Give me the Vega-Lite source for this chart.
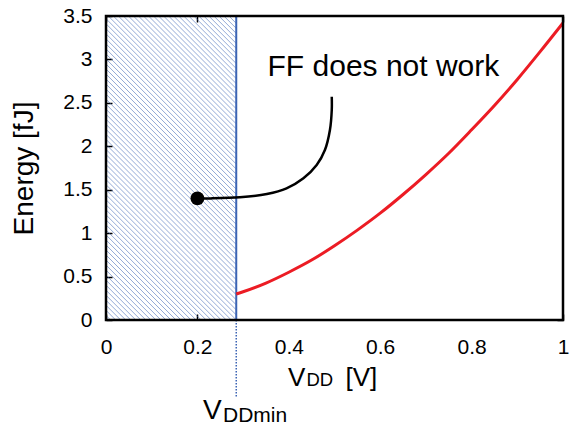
{
  "$schema": "https://vega.github.io/schema/vega-lite/v6.json",
  "width": 457,
  "height": 304,
  "autosize": {"type": "none"},
  "padding": {"left": 106, "top": 16, "right": 7, "bottom": 105},
  "background": "white",
  "config": {
    "view": {"stroke": null},
    "font": "Liberation Sans",
    "axis": {"grid": false, "domain": false, "tickColor": "black", "tickWidth": 1.5, "tickSize": -6, "labelColor": "black", "labelFont": "Liberation Sans", "labelFontSize": 21, "labelFlush": false, "zindex": 2}
  },
  "datasets": {
    "hatch": [
      {"a": 0.28}, {"a": 0.269}, {"a": 0.258}, {"a": 0.247}, {"a": 0.236}, {"a": 0.225}, {"a": 0.214}, {"a": 0.203}, {"a": 0.192}, {"a": 0.181},
      {"a": 0.17}, {"a": 0.159}, {"a": 0.148}, {"a": 0.137}, {"a": 0.126}, {"a": 0.115}, {"a": 0.104}, {"a": 0.093}, {"a": 0.082}, {"a": 0.071},
      {"a": 0.06}, {"a": 0.049}, {"a": 0.038}, {"a": 0.027}, {"a": 0.016}, {"a": 0.005}, {"a": -0.006}, {"a": -0.017}, {"a": -0.028}, {"a": -0.039},
      {"a": -0.05}, {"a": -0.061}, {"a": -0.072}, {"a": -0.083}, {"a": -0.094}, {"a": -0.105}, {"a": -0.116}, {"a": -0.127}, {"a": -0.138}, {"a": -0.149},
      {"a": -0.16}, {"a": -0.171}, {"a": -0.182}, {"a": -0.193}, {"a": -0.204}, {"a": -0.215}, {"a": -0.226}, {"a": -0.237}, {"a": -0.248}, {"a": -0.259},
      {"a": -0.27}, {"a": -0.281}, {"a": -0.292}, {"a": -0.303}, {"a": -0.314}, {"a": -0.325}, {"a": -0.336}, {"a": -0.347}, {"a": -0.358}, {"a": -0.369},
      {"a": -0.38}, {"a": -0.391}, {"a": -0.402}, {"a": -0.413}, {"a": -0.424}, {"a": -0.435}, {"a": -0.446}, {"a": -0.457}, {"a": -0.468}, {"a": -0.479},
      {"a": -0.49}, {"a": -0.501}, {"a": -0.512}, {"a": -0.523}, {"a": -0.534}, {"a": -0.545}, {"a": -0.556}, {"a": -0.567}, {"a": -0.578}, {"a": -0.589},
      {"a": -0.6}, {"a": -0.611}, {"a": -0.622}, {"a": -0.633}, {"a": -0.644}, {"a": -0.655}, {"a": -0.666}
    ],
    "energy": [
      {"vdd": 0.285, "energy": 0.3},
      {"vdd": 0.3, "energy": 0.325},
      {"vdd": 0.35, "energy": 0.425},
      {"vdd": 0.4, "energy": 0.55},
      {"vdd": 0.45, "energy": 0.69},
      {"vdd": 0.5, "energy": 0.855},
      {"vdd": 0.55, "energy": 1.035},
      {"vdd": 0.6, "energy": 1.23},
      {"vdd": 0.65, "energy": 1.445},
      {"vdd": 0.7, "energy": 1.675},
      {"vdd": 0.75, "energy": 1.92},
      {"vdd": 0.8, "energy": 2.19},
      {"vdd": 0.85, "energy": 2.47},
      {"vdd": 0.9, "energy": 2.77},
      {"vdd": 0.95, "energy": 3.09},
      {"vdd": 1.0, "energy": 3.42}
    ],
    "arrow": [
      {"i": 0, "x": 0.2, "y": 1.4},
      {"i": 1, "x": 0.228, "y": 1.4},
      {"i": 2, "x": 0.293, "y": 1.412},
      {"i": 3, "x": 0.352, "y": 1.451},
      {"i": 4, "x": 0.395, "y": 1.516},
      {"i": 5, "x": 0.432, "y": 1.632},
      {"i": 6, "x": 0.461, "y": 1.785},
      {"i": 7, "x": 0.479, "y": 1.957},
      {"i": 8, "x": 0.49, "y": 2.188},
      {"i": 9, "x": 0.494, "y": 2.418},
      {"i": 10, "x": 0.494, "y": 2.571}
    ],
    "dot": [{"x": 0.2, "y": 1.4}],
    "one": [{}]
  },
  "resolve": {"axis": {"x": "independent", "y": "independent"}},
  "layer": [
    {
      "data": {"name": "hatch"},
      "mark": {"type": "rule", "clip": true, "x2Offset": 304, "stroke": "#3c64b4", "strokeWidth": 1, "opacity": 0.55},
      "encoding": {
        "x": {"field": "a", "type": "quantitative", "scale": {"domain": [0, 1], "nice": false, "zero": false},
          "axis": {"orient": "bottom", "values": [0, 0.2, 0.4, 0.6, 0.8, 1], "format": "~g", "title": null, "labelPadding": 22}},
        "x2": {"field": "a"},
        "y": {"datum": 3.5, "type": "quantitative", "scale": {"domain": [0, 3.5], "nice": false, "zero": false},
          "axis": {"orient": "left", "values": [0, 0.5, 1, 1.5, 2, 2.5, 3, 3.5], "format": "~g", "labelPadding": 20,
            "title": "Energy [fJ]", "titleFont": "Liberation Sans", "titleFontSize": 28, "titleFontWeight": "normal", "titleColor": "black", "titlePadding": 24}},
        "y2": {"datum": 0}
      }
    },
    {
      "data": {"name": "one"},
      "mark": {"type": "rect", "fill": "white"},
      "encoding": {
        "x": {"datum": 0.285, "type": "quantitative", "scale": {"domain": [0, 1], "nice": false, "zero": false}, "axis": null},
        "x2": {"datum": 1},
        "y": {"datum": 0, "type": "quantitative", "scale": {"domain": [0, 3.5], "nice": false, "zero": false}, "axis": null},
        "y2": {"datum": 3.5}
      }
    },
    {
      "data": {"name": "one"},
      "mark": {"type": "rect", "fill": null, "fillOpacity": 0, "stroke": "#3c64b4", "strokeWidth": 2},
      "encoding": {
        "x": {"datum": 0, "type": "quantitative", "scale": {"domain": [0, 1], "nice": false, "zero": false}, "axis": null},
        "x2": {"datum": 0.285},
        "y": {"datum": 0, "type": "quantitative", "scale": {"domain": [0, 3.5], "nice": false, "zero": false}, "axis": null},
        "y2": {"datum": 3.5}
      }
    },
    {
      "data": {"name": "one"},
      "mark": {"type": "rule", "stroke": "#3c64b4", "strokeWidth": 1.5, "strokeDash": [1.5, 1.5]},
      "encoding": {
        "x": {"datum": 0.285, "type": "quantitative", "scale": {"domain": [0, 1], "nice": false, "zero": false}, "axis": null},
        "y": {"datum": 0, "type": "quantitative", "scale": {"domain": [0, 3.5], "nice": false, "zero": false}, "axis": null},
        "y2": {"datum": -0.88}
      }
    },
    {
      "data": {"name": "energy"},
      "mark": {"type": "line", "stroke": "#ec1c24", "strokeWidth": 3, "interpolate": "monotone"},
      "encoding": {
        "x": {"field": "vdd", "type": "quantitative", "scale": {"domain": [0, 1], "nice": false, "zero": false}, "axis": null},
        "y": {"field": "energy", "type": "quantitative", "scale": {"domain": [0, 3.5], "nice": false, "zero": false}, "axis": null}
      }
    },
    {
      "data": {"name": "arrow"},
      "mark": {"type": "line", "stroke": "black", "strokeWidth": 2.5, "interpolate": "catmull-rom"},
      "encoding": {
        "x": {"field": "x", "type": "quantitative", "scale": {"domain": [0, 1], "nice": false, "zero": false}, "axis": null},
        "y": {"field": "y", "type": "quantitative", "scale": {"domain": [0, 3.5], "nice": false, "zero": false}, "axis": null},
        "order": {"field": "i", "type": "quantitative"}
      }
    },
    {
      "data": {"name": "dot"},
      "mark": {"type": "point", "filled": true, "fill": "black", "opacity": 1, "size": 190, "shape": "circle"},
      "encoding": {
        "x": {"field": "x", "type": "quantitative", "scale": {"domain": [0, 1], "nice": false, "zero": false}, "axis": null},
        "y": {"field": "y", "type": "quantitative", "scale": {"domain": [0, 3.5], "nice": false, "zero": false}, "axis": null}
      }
    },
    {
      "data": {"name": "one"},
      "mark": {"type": "text", "text": "FF does not work", "font": "Liberation Sans", "fontSize": 30, "align": "center", "baseline": "alphabetic", "color": "black"},
      "encoding": {
        "x": {"datum": 0.607, "type": "quantitative", "scale": {"domain": [0, 1], "nice": false, "zero": false}, "axis": null},
        "y": {"datum": 2.81, "type": "quantitative", "scale": {"domain": [0, 3.5], "nice": false, "zero": false}, "axis": null}
      }
    },
    {
      "data": {"name": "one"},
      "mark": {"type": "text", "text": "V", "font": "Liberation Sans", "fontSize": 26, "align": "left", "baseline": "alphabetic", "color": "black"},
      "encoding": {
        "x": {"datum": 0.398, "type": "quantitative", "scale": {"domain": [0, 1], "nice": false, "zero": false}, "axis": null},
        "y": {"datum": -0.76, "type": "quantitative", "scale": {"domain": [0, 3.5], "nice": false, "zero": false}, "axis": null}
      }
    },
    {
      "data": {"name": "one"},
      "mark": {"type": "text", "text": "DD", "font": "Liberation Sans", "fontSize": 18.5, "align": "left", "baseline": "alphabetic", "color": "black"},
      "encoding": {
        "x": {"datum": 0.4385, "type": "quantitative", "scale": {"domain": [0, 1], "nice": false, "zero": false}, "axis": null},
        "y": {"datum": -0.765, "type": "quantitative", "scale": {"domain": [0, 3.5], "nice": false, "zero": false}, "axis": null}
      }
    },
    {
      "data": {"name": "one"},
      "mark": {"type": "text", "text": "[V]", "font": "Liberation Sans", "fontSize": 26, "align": "left", "baseline": "alphabetic", "color": "black"},
      "encoding": {
        "x": {"datum": 0.524, "type": "quantitative", "scale": {"domain": [0, 1], "nice": false, "zero": false}, "axis": null},
        "y": {"datum": -0.76, "type": "quantitative", "scale": {"domain": [0, 3.5], "nice": false, "zero": false}, "axis": null}
      }
    },
    {
      "data": {"name": "one"},
      "mark": {"type": "text", "text": "V", "font": "Liberation Sans", "fontSize": 28, "align": "left", "baseline": "alphabetic", "color": "black"},
      "encoding": {
        "x": {"datum": 0.2123, "type": "quantitative", "scale": {"domain": [0, 1], "nice": false, "zero": false}, "axis": null},
        "y": {"datum": -1.14, "type": "quantitative", "scale": {"domain": [0, 3.5], "nice": false, "zero": false}, "axis": null}
      }
    },
    {
      "data": {"name": "one"},
      "mark": {"type": "text", "text": "DDmin", "font": "Liberation Sans", "fontSize": 21, "align": "left", "baseline": "alphabetic", "color": "black"},
      "encoding": {
        "x": {"datum": 0.256, "type": "quantitative", "scale": {"domain": [0, 1], "nice": false, "zero": false}, "axis": null},
        "y": {"datum": -1.17, "type": "quantitative", "scale": {"domain": [0, 3.5], "nice": false, "zero": false}, "axis": null}
      }
    },
    {
      "data": {"name": "one"},
      "mark": {"type": "rect", "fill": null, "fillOpacity": 0, "stroke": "black", "strokeWidth": 2.5},
      "encoding": {
        "x": {"datum": 0, "type": "quantitative", "scale": {"domain": [0, 1], "nice": false, "zero": false},
          "axis": {"orient": "top", "values": [0, 0.2, 0.4, 0.6, 0.8, 1], "labels": false, "title": null}},
        "x2": {"datum": 1},
        "y": {"datum": 0, "type": "quantitative", "scale": {"domain": [0, 3.5], "nice": false, "zero": false},
          "axis": {"orient": "right", "values": [0, 0.5, 1, 1.5, 2, 2.5, 3, 3.5], "labels": false, "title": null}},
        "y2": {"datum": 3.5}
      }
    }
  ]
}
